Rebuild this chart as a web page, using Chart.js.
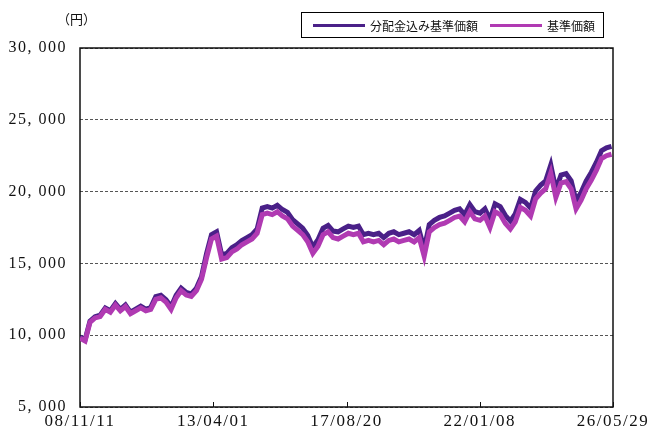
<!DOCTYPE html>
<html lang="ja">
<head>
<meta charset="utf-8">
<script src="https://cdn.jsdelivr.net/npm/chart.js@4/dist/chart.umd.min.js"></script>
<style>
  body { margin: 0; background: #fff; }
  #wrap { position: relative; width: 649px; height: 436px; }
  #unit { position: absolute; left: 57px; top: 9px; font: 13px "Noto Sans CJK JP", sans-serif; color: #111; white-space: nowrap; }
  #legend {
    position: absolute; left: 301px; top: 12px; width: 303px; height: 26px;
    border: 1px solid #000; box-sizing: border-box;
    font: 12px "Noto Sans CJK JP", sans-serif; color: #111; white-space: nowrap;
    display: flex; align-items: center; padding-left: 11px;
  }
  #legend .sw { display: inline-block; flex: none; width: 52px; height: 3px; margin-right: 5px; }
  #legend .item { display: flex; flex: none; align-items: center; margin-right: 12px; }
</style>
</head>
<body>
<div id="wrap">
  <canvas id="chart" width="649" height="436"></canvas>
  <div id="unit">（円）</div>
  <div id="legend">
    <span class="item"><span class="sw" style="background:#4a2088"></span>分配金込み基準価額</span>
    <span class="item"><span class="sw" style="background:#b03ab2"></span>基準価額</span>
  </div>
</div>
<script>
// 期間と目盛り
const startDate = [2008, 10, 11]; // 2008/11/11
const stepMonths = 2;
const tickStepDays = 1602;
const tickLabels = ["08/11/11", "13/04/01", "17/08/20", "22/01/08", "26/05/29"];
const yTicks = [5000, 10000, 15000, 20000, 25000, 30000];

// 分配金込み基準価額（2か月ごと）
const navWithDist = [
  9880, 9680, 10980, 11290, 11390, 11890, 11700, 12200, 11800, 12100,
  11600, 11820, 12020, 11820, 11920, 12680, 12780, 12480, 11980, 12780,
  13280, 12980, 12880, 13280, 14080, 15700, 17000, 17200, 15600, 15700,
  16100, 16300, 16600, 16800, 17000, 17400, 18850, 18950, 18850, 19050,
  18750, 18550, 18050, 17750, 17450, 16950, 16150, 16650, 17450, 17650,
  17250, 17200, 17400, 17600, 17500, 17600, 17000, 17100, 17000, 17100,
  16800, 17100, 17200, 17000, 17100, 17200, 17000, 17300, 16000, 17700,
  18000, 18200, 18300, 18500, 18700, 18800, 18400, 19100, 18600, 18500,
  18800, 18050, 19150, 18950, 18350, 17950, 18450, 19450, 19250, 18850,
  20050, 20450, 20750, 21850, 20150, 21150, 21250, 20750, 19350, 19950,
  20750, 21350, 22050, 22850, 23050, 23150
];

// 基準価額（2か月ごと）
const nav = [
  9800, 9600, 10900, 11200, 11300, 11800, 11600, 12100, 11700, 12000,
  11500, 11700, 11900, 11700, 11800, 12500, 12600, 12300, 11800, 12600,
  13100, 12800, 12700, 13100, 13900, 15400, 16700, 16900, 15300, 15400,
  15800, 16000, 16300, 16500, 16700, 17100, 18400, 18500, 18400, 18600,
  18300, 18100, 17600, 17300, 17000, 16500, 15700, 16200, 17000, 17200,
  16800, 16700, 16900, 17100, 17000, 17100, 16500, 16600, 16500, 16600,
  16300, 16600, 16700, 16500, 16600, 16700, 16500, 16800, 15500, 17200,
  17500, 17700, 17800, 18000, 18200, 18300, 17900, 18600, 18100, 18000,
  18300, 17500, 18600, 18400, 17800, 17400, 17900, 18900, 18700, 18300,
  19500, 19900, 20200, 21300, 19600, 20600, 20700, 20200, 18800, 19400,
  20200, 20800, 21500, 22300, 22500, 22600
];

// 開始日からの日数
function dayOffset(i) {
  const t0 = Date.UTC(startDate[0], startDate[1], startDate[2]);
  const t = Date.UTC(startDate[0], startDate[1] + i * stepMonths, startDate[2]);
  return Math.round((t - t0) / 86400000);
}

function toPoints(values) {
  return values.map((v, i) => ({ x: dayOffset(i), y: v }));
}

// 枠線と内向きの目盛り
const framePlugin = {
  id: "frame",
  beforeDraw(chart) {
    chart.ctx.letterSpacing = "1.5px";
  },
  beforeDatasetsDraw(chart) {
    const { ctx, chartArea: a, scales } = chart;
    ctx.save();
    ctx.letterSpacing = "0px";
    ctx.strokeStyle = "#111";
    ctx.lineWidth = 1.5;
    ctx.strokeRect(a.left, a.top, a.right - a.left, a.bottom - a.top);
    ctx.lineWidth = 1;
    scales.x.ticks.forEach((t) => {
      const px = Math.round(scales.x.getPixelForValue(t.value)) + 0.5;
      ctx.beginPath();
      ctx.moveTo(px, a.bottom);
      ctx.lineTo(px, a.bottom - 5);
      ctx.stroke();
    });
    ctx.restore();
  },
  afterDraw(chart) {
    chart.ctx.letterSpacing = "0px";
  }
};

const tickFont = { family: "'Liberation Serif', serif", size: 16 };

new Chart(document.getElementById("chart"), {
  type: "line",
  data: {
    datasets: [
      {
        label: "分配金込み基準価額",
        data: toPoints(navWithDist),
        borderColor: "#4a2088",
        borderWidth: 5,
        pointRadius: 0,
        tension: 0,
        order: 1
      },
      {
        label: "基準価額",
        data: toPoints(nav),
        borderColor: "#b03ab2",
        borderWidth: 5,
        pointRadius: 0,
        tension: 0,
        order: 0
      }
    ]
  },
  options: {
    responsive: false,
    animation: false,
    layout: { padding: { top: 48, right: 36, left: 0, bottom: 0 } },
    plugins: { legend: { display: false }, tooltip: { enabled: false } },
    scales: {
      x: {
        type: "linear",
        min: 0,
        max: tickStepDays * (tickLabels.length - 1),
        afterBuildTicks(scale) {
          scale.ticks = tickLabels.map((_, i) => ({ value: i * tickStepDays }));
        },
        ticks: {
          autoSkip: false,
          maxRotation: 0,
          padding: 4,
          color: "#111",
          font: { family: "'Liberation Serif', serif", size: 17 },
          callback: (v) => tickLabels[Math.round(v / tickStepDays)]
        },
        grid: { display: false, drawTicks: false },
        border: { display: false },
        afterFit(scale) {
          scale.height = 29;
          scale.paddingLeft = 0;
          scale.paddingRight = 0;
        }
      },
      y: {
        min: yTicks[0],
        max: yTicks[yTicks.length - 1],
        afterBuildTicks(scale) {
          scale.ticks = yTicks.map((v) => ({ value: v }));
        },
        ticks: {
          padding: 13,
          color: "#111",
          font: tickFont,
          callback: (v) => v.toLocaleString("en-US").replace(",", ", ")
        },
        grid: { color: "#555", lineWidth: 1, drawTicks: false },
        border: { display: false, dash: [3, 2] },
        afterFit(scale) {
          scale.width = 80;
          scale.paddingTop = 0;
          scale.paddingBottom = 0;
        }
      }
    }
  },
  plugins: [framePlugin]
});
</script>
</body>
</html>
